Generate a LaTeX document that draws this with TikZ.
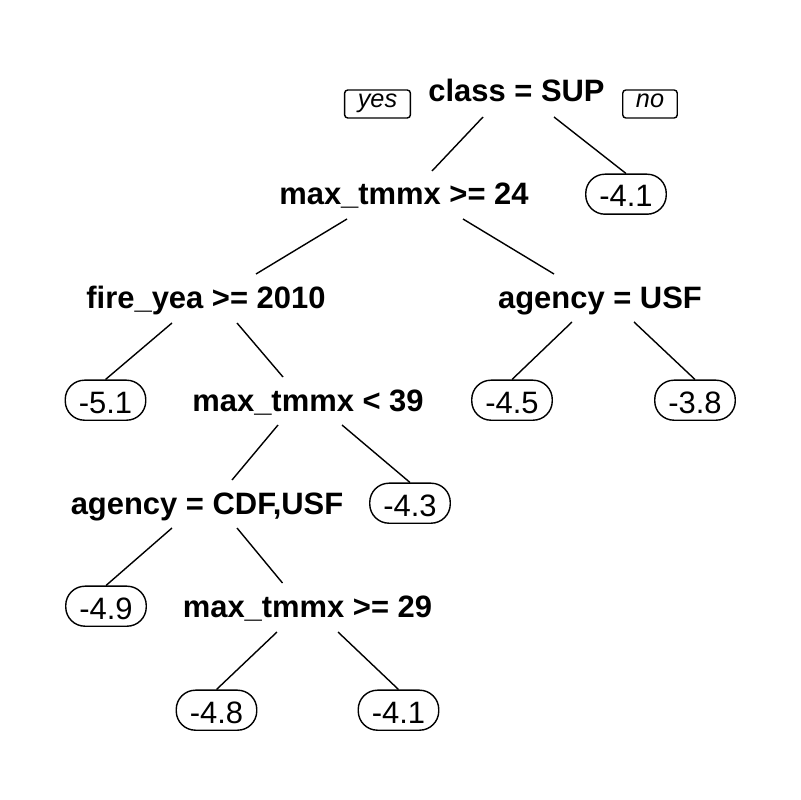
\documentclass[tikz,border=0pt]{standalone}
\usepackage{fontspec}
\setmainfont{Liberation Sans}
\usepackage{tikz}

\tikzset{
  split/.style={anchor=base, font=\fontsize{22}{26}\selectfont\bfseries},
  leaf/.style={draw, anchor=base, rounded corners=0.48cm,
               font=\fontsize{22}{26}\selectfont,
               text height=0.72cm, text depth=0.08cm,
               inner ysep=0.1cm, inner xsep=0.34cm},
  tag/.style={draw, anchor=base, rounded corners=0.08cm,
              font=\fontsize{18}{21}\selectfont\itshape,
              text height=0.375cm, text depth=0.175cm,
              inner ysep=0.075cm, inner xsep=0.33cm},
}

\begin{document}
\begin{tikzpicture}[x=0.025cm, y=-0.025cm, line width=1pt]
    \useasboundingbox (0,0) rectangle (800,800);
    \node[tag] (yes) at (377.5,108) {yes};
    \node[tag] (no) at (650,108) {no};
    \node[split] (root) at (516.5,102) {class = SUP};
    \node[split] (tmax24) at (404,205) {max\_tmmx >= 24};
    \node[leaf] (la) at (626,207) {-4.1};
    \node[split] (fire) at (206,308) {fire\_yea >= 2010};
    \node[split] (usf) at (600,308) {agency = USF};
    \node[leaf] (lb) at (105.5,413) {-5.1};
    \node[split] (tmax39) at (308,411) {max\_tmmx < 39};
    \node[leaf] (lc) at (512,413) {-4.5};
    \node[leaf] (ld) at (695,413) {-3.8};
    \node[split] (cdf) at (207,514) {agency = CDF,USF};
    \node[leaf] (le) at (410,516) {-4.3};
    \node[leaf] (lf) at (106,619) {-4.9};
    \node[split] (tmax29) at (307.5,617) {max\_tmmx >= 29};
    \node[leaf] (lg) at (216.5,723) {-4.8};
    \node[leaf] (lh) at (398.5,723) {-4.1};
    \draw ([shift={(-33.5,15)}]root.base) -- ([shift={(28,-34)}]tmax24.base);
    \draw ([shift={(37.5,15)}]root.base) -- (la.north);
    \draw ([shift={(-57,14)}]tmax24.base) -- ([shift={(50,-34)}]fire.base);
    \draw ([shift={(59,14)}]tmax24.base) -- ([shift={(-46,-34)}]usf.base);
    \draw ([shift={(-34,15)}]fire.base) -- (lb.north);
    \draw ([shift={(31,15)}]fire.base) -- ([shift={(-25,-34)}]tmax39.base);
    \draw ([shift={(-28,14)}]usf.base) -- (lc.north);
    \draw ([shift={(34,14)}]usf.base) -- (ld.north);
    \draw ([shift={(-30,14)}]tmax39.base) -- ([shift={(25,-34)}]cdf.base);
    \draw ([shift={(34,14)}]tmax39.base) -- (le.north);
    \draw ([shift={(-35,14)}]cdf.base) -- (lf.north);
    \draw ([shift={(30,14)}]cdf.base) -- ([shift={(-25,-34)}]tmax29.base);
    \draw ([shift={(-30.5,15)}]tmax29.base) -- (lg.north);
    \draw ([shift={(30.5,15)}]tmax29.base) -- (lh.north);
  \end{tikzpicture}
\end{document}
